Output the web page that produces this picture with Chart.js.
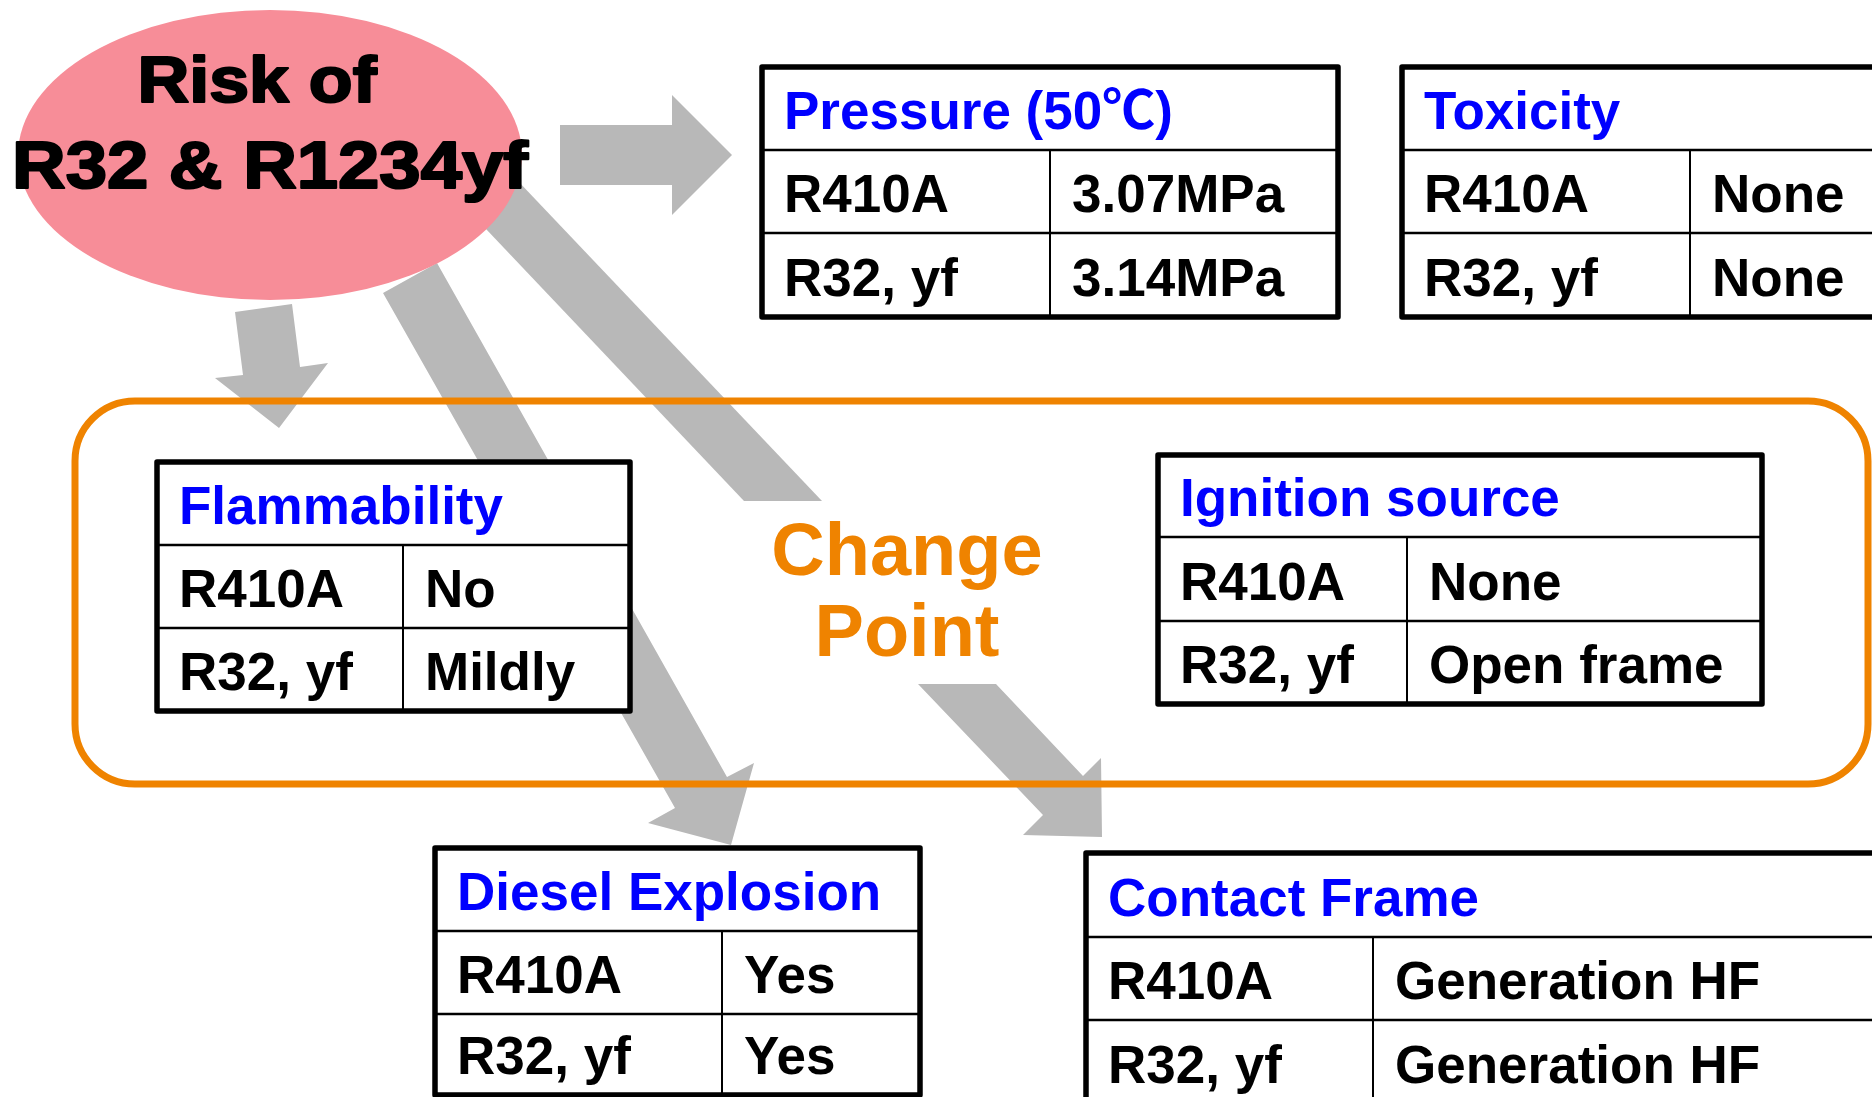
<!DOCTYPE html>
<html><head><meta charset="utf-8">
<script src="https://cdn.jsdelivr.net/npm/chart.js@4"></script>
<style>html,body{margin:0;padding:0;background:#fff;overflow:hidden}#wrap{width:1872px;height:1097px;position:relative}</style>
</head><body><div id="wrap"><canvas id="c"></canvas></div>
<script>
// ---- content ----
const centerTitle = ["Risk of", "R32 & R1234yf"];
const changeLabel = ["Change", "Point"];
const tableTitles = ["Pressure (50\u2103)", "Toxicity", "Flammability", "Ignition source", "Diesel Explosion", "Contact Frame"];
const rowLabels = ["R410A", "R32, yf"];
const pressureValues = ["3.07MPa", "3.14MPa"];
const toxicityValues = ["None", "None"];
const flammabilityValues = ["No", "Mildly"];
const ignitionValues = ["None", "Open frame"];
const dieselValues = ["Yes", "Yes"];
const contactValues = ["Generation HF", "Generation HF"];
const tableValues = [pressureValues, toxicityValues, flammabilityValues, ignitionValues, dieselValues, contactValues];

// ---- layout (in scale units: x 0..1872, y 0..1097 top-down) ----
const tableLayout = [
  {x0:762,  x1:1338, xDiv:1050, y:[67,150,233,317]},
  {x0:1402, x1:1885, xDiv:1690, y:[67,150,233,317]},
  {x0:157,  x1:630,  xDiv:403,  y:[462,545,628,711]},
  {x0:1158, x1:1762, xDiv:1407, y:[455,537,621,704]},
  {x0:435,  x1:920,  xDiv:722,  y:[848,931,1014,1095]},
  {x0:1086, x1:1885, xDiv:1373, y:[853,937,1020,1104]}
];
const arrowShapes = [
  [[560,125],[672,125],[672,95],[732,155],[672,215],[672,185],[560,185]],
  [[235,312],[292,304],[300,367],[328,363],[279,428],[215,378],[243,375]],
  [[383,293],[437,263],[727,777],[754,763],[731,845],[648,823],[675,808]],
  [[449,190],[479,140],[822,501],[744,501]],
  [[918,684],[996,684],[1083,776],[1101,758],[1102,837],[1023,835],[1043,815]]
];
const ellipseShape = {cx:270, cy:155, rx:252, ry:145};
const titleLines = [{cx:257, base:102, w:239, size:64}, {cx:270, base:188, w:516, size:67}];
const zoneBox = {x0:75, y0:401, x1:1868, y1:784, r:60};
const changeLines = [{cx:907, base:575}, {cx:907, base:656}];

const FONT = '"Liberation Sans", Arial, "Noto Sans CJK JP", sans-serif';
const COL = {gray:'#B8B8B8', pink:'#F78D98', orange:'#EF8300', blue:'#0000FF', black:'#000000'};

const diagramPlugin = {
  id: 'diagram',
  afterDatasetsDraw(chart) {
    const ctx = chart.ctx;
    const sx = chart.scales.x, sy = chart.scales.y;
    const X = v => sx.getPixelForValue(v);
    const Y = v => sy.getPixelForValue(v);
    const L = v => X(v) - X(0);
    ctx.save();
    // arrows
    ctx.fillStyle = COL.gray;
    arrowShapes.forEach(poly => {
      ctx.beginPath();
      poly.forEach((p, i) => i ? ctx.lineTo(X(p[0]), Y(p[1])) : ctx.moveTo(X(p[0]), Y(p[1])));
      ctx.closePath();
      ctx.fill();
    });
    // orange zone
    ctx.strokeStyle = COL.orange;
    ctx.lineWidth = 7;
    ctx.beginPath();
    ctx.roundRect(X(zoneBox.x0), Y(zoneBox.y0), L(zoneBox.x1 - zoneBox.x0), Y(zoneBox.y1) - Y(zoneBox.y0), L(zoneBox.r));
    ctx.stroke();
    // ellipse
    ctx.fillStyle = COL.pink;
    ctx.beginPath();
    ctx.ellipse(X(ellipseShape.cx), Y(ellipseShape.cy), L(ellipseShape.rx), Y(ellipseShape.ry) - Y(0), 0, 0, Math.PI * 2);
    ctx.fill();
    // ellipse text (heavy, slightly widened)
    ctx.fillStyle = COL.black;
    ctx.strokeStyle = COL.black;
    ctx.lineJoin = 'round';
    ctx.textBaseline = 'alphabetic';
    ctx.textAlign = 'left';
    centerTitle.forEach((t, i) => {
      const ln = titleLines[i];
      ctx.font = 'bold ' + ln.size + 'px ' + FONT;
      const mw = ctx.measureText(t).width;
      const k = L(ln.w) / mw;
      ctx.save();
      ctx.translate(X(ln.cx) - L(ln.w) / 2, Y(ln.base));
      ctx.scale(k, 1);
      ctx.lineWidth = 2.2;
      ctx.fillText(t, 0, 0);
      ctx.strokeText(t, 0, 0);
      ctx.restore();
    });
    // change point
    ctx.fillStyle = COL.orange;
    ctx.textAlign = 'center';
    ctx.font = 'bold 74px ' + FONT;
    changeLabel.forEach((t, i) => ctx.fillText(t, X(changeLines[i].cx), Y(changeLines[i].base)));
    // tables
    ctx.textAlign = 'left';
    tableLayout.forEach((tb, ti) => {
      const x0 = X(tb.x0), x1 = X(tb.x1), xd = X(tb.xDiv);
      const ys = tb.y.map(Y);
      ctx.fillStyle = '#FFFFFF';
      ctx.fillRect(x0, ys[0], x1 - x0, ys[3] - ys[0]);
      ctx.strokeStyle = COL.black;
      ctx.lineWidth = 2.5;
      ctx.beginPath();
      ctx.moveTo(x0, ys[1]); ctx.lineTo(x1, ys[1]);
      ctx.moveTo(x0, ys[2]); ctx.lineTo(x1, ys[2]);
      ctx.stroke();
      ctx.lineWidth = 2;
      ctx.beginPath();
      ctx.moveTo(xd, ys[1]); ctx.lineTo(xd, ys[3]);
      ctx.stroke();
      ctx.lineWidth = 5.5;
      ctx.strokeRect(x0, ys[0], x1 - x0, ys[3] - ys[0]);
      ctx.font = 'bold 53px ' + FONT;
      ctx.fillStyle = COL.blue;
      ctx.fillText(tableTitles[ti], x0 + L(22), ys[1] - L(21));
      ctx.fillStyle = COL.black;
      rowLabels.forEach((r, ri) => {
        const base = ys[ri + 2] - L(21);
        ctx.fillText(r, x0 + L(22), base);
        ctx.fillText(tableValues[ti][ri], xd + L(22), base);
      });
    });
    ctx.restore();
  }
};

new Chart(document.getElementById('c'), {
  type: 'scatter',
  data: { datasets: [{ data: [], showLine: false }] },
  options: {
    responsive: true,
    maintainAspectRatio: false,
    animation: false,
    events: [],
    layout: { padding: 0 },
    plugins: { legend: { display: false }, tooltip: { enabled: false }, title: { display: false } },
    scales: {
      x: { type: 'linear', min: 0, max: 1872, display: false },
      y: { type: 'linear', min: 0, max: 1097, reverse: true, display: false }
    }
  },
  plugins: [diagramPlugin]
});
</script>
</body></html>
